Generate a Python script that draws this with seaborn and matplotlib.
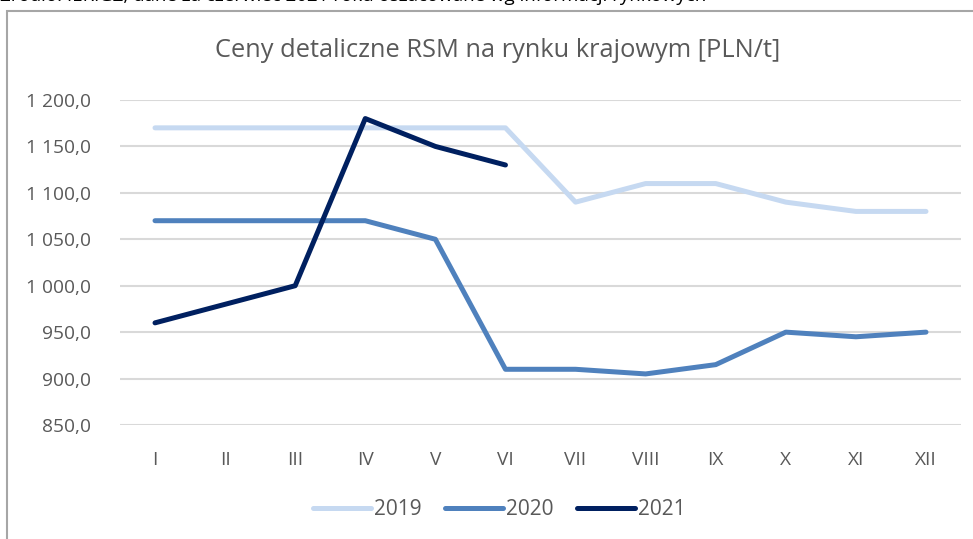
import pandas as pd
import seaborn as sns
import matplotlib.pyplot as plt
from matplotlib.patches import Rectangle
from matplotlib.ticker import FuncFormatter

# monthly retail prices of RSM, PLN/t
months = ['I', 'II', 'III', 'IV', 'V', 'VI', 'VII', 'VIII', 'IX', 'X', 'XI', 'XII']
prices_2019 = [1170, 1170, 1170, 1170, 1170, 1170, 1090, 1110, 1110, 1090, 1080, 1080]
prices_2020 = [1070, 1070, 1070, 1070, 1050, 910, 910, 905, 915, 950, 945, 950]
prices_2021 = [960, 980, 1000, 1180, 1150, 1130]
years = ['2019', '2020', '2021']
colors = ['#c6d9f1', '#4f81bd', '#002060']

rows = []
for year, vals in zip(years, [prices_2019, prices_2020, prices_2021]):
    for i, v in enumerate(vals):
        rows.append({'month': i, 'year': year, 'price': v})
df = pd.DataFrame(rows)

sns.set_style('white')
plt.rcParams['font.family'] = ['Open Sans', 'DejaVu Sans']

fig = plt.figure(figsize=(9.73, 5.39), dpi=100)
ax = fig.add_axes([0.1233, 0.2115, 0.8644, 0.603])

sns.lineplot(data=df, x='month', y='price', hue='year', palette=dict(zip(years, colors)),
             linewidth=3.6, ax=ax, legend=False, solid_capstyle='round', solid_joinstyle='round')

ax.set_xlim(-0.5, 11.5)
ax.set_ylim(850, 1200)
ax.set_yticks(range(850, 1201, 50))
ax.yaxis.set_major_formatter(FuncFormatter(
    lambda v, p: f"{v:,.1f}".replace(',', ' ').replace('.', ',')))
ax.set_xticks(range(12))
ax.set_xticklabels(months)
ax.grid(axis='y', color='#d9d9d9', linewidth=1.5)
ax.set_axisbelow(True)
for s in ax.spines.values():
    s.set_visible(False)
ax.tick_params(axis='both', length=0, labelsize=13.8, labelcolor='#595959')
ax.tick_params(axis='y', pad=21)
ax.tick_params(axis='x', pad=19)
ax.set_xlabel('')
ax.set_ylabel('')

fig.text(0.511, 0.907, 'Ceny detaliczne RSM na rynku krajowym [PLN/t]', ha='center', va='center',
         fontsize=18.3, color='#595959')

# legend
handles = [plt.Line2D([], [], color=c, linewidth=3.6, solid_capstyle='round') for c in colors]
fig.legend(handles, years, loc='center', bbox_to_anchor=(0.513, 0.055), ncol=3, frameon=False,
           fontsize=15, labelcolor='#595959', handlelength=2.8, handletextpad=0.15, columnspacing=1.1)

# chart frame and cut-off source note
fig.patches.append(Rectangle((7 / 973, -0.1), 1.1, 1 - 11 / 539 + 0.1, transform=fig.transFigure,
                             fill=False, edgecolor='#a6a6a6', linewidth=1.5))
fig.text(0.0, 1.01, 'Źródło: IERiGŻ, dane za czerwiec 2021 roku oszacowane wg informacji rynkowych',
         ha='left', va='center', fontsize=13.5, color='black')

fig.savefig('out.png', dpi=100)
